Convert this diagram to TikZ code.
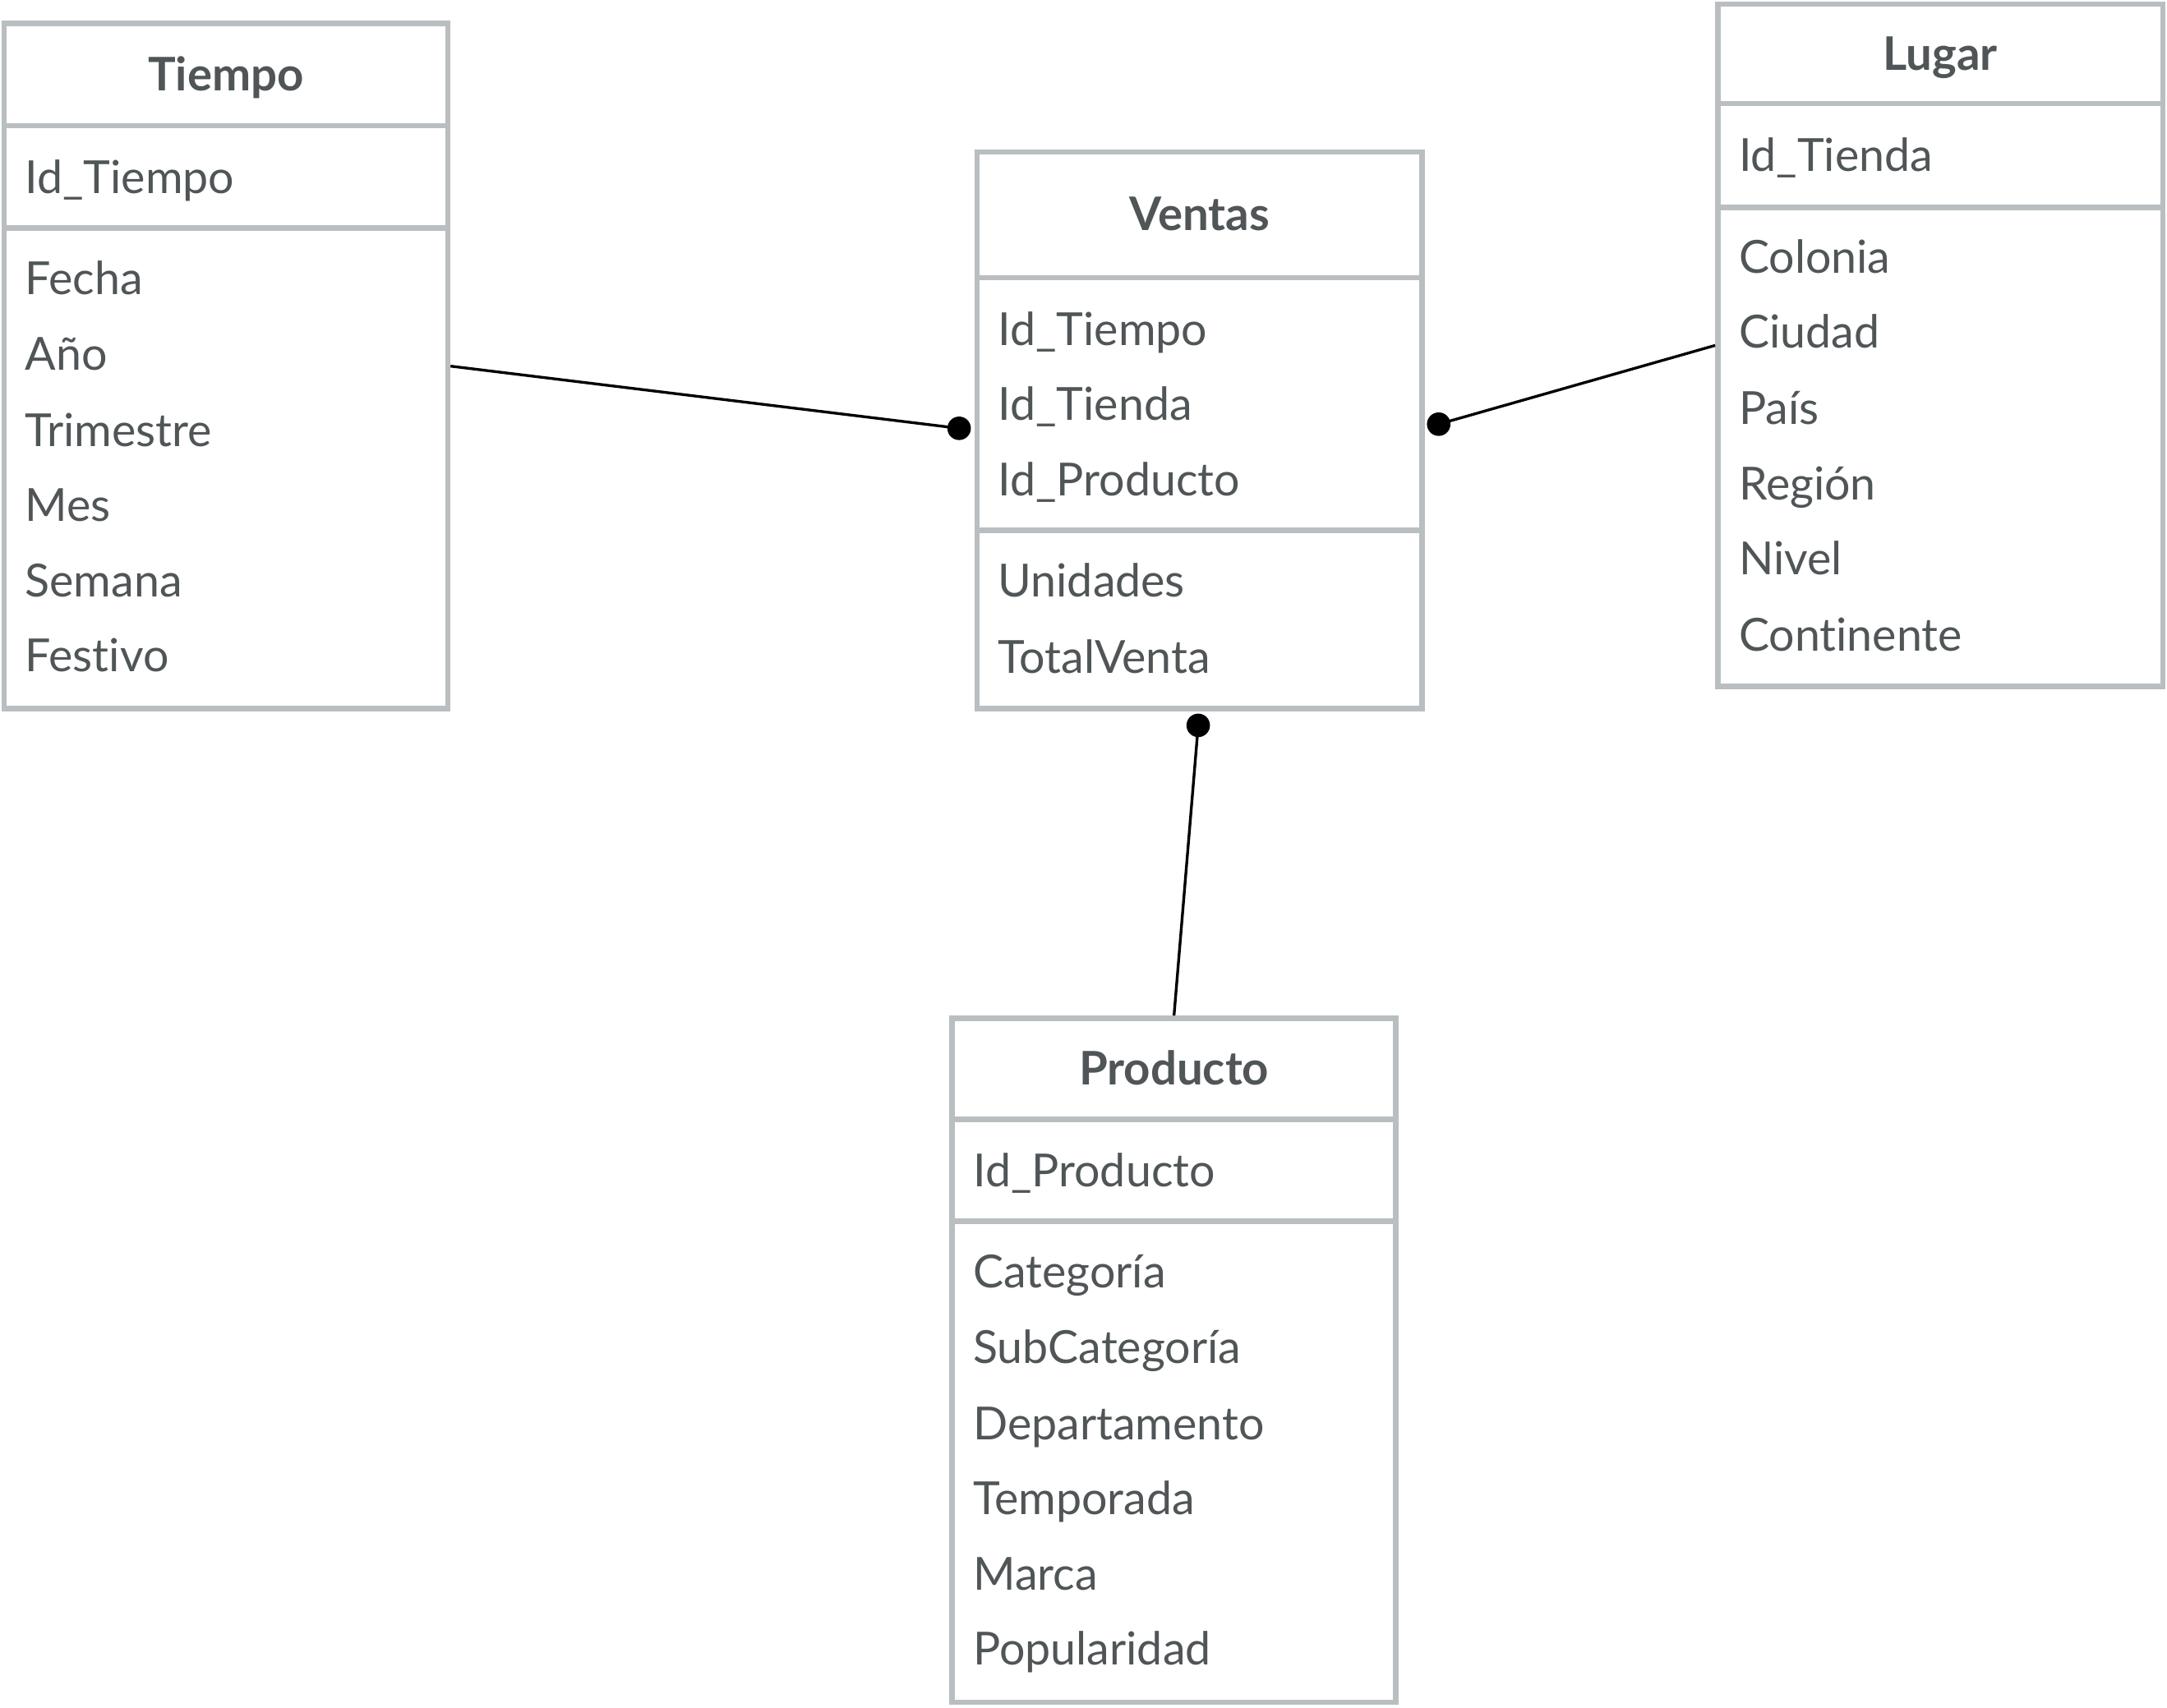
\documentclass[tikz,border=0pt]{standalone}
\usepackage{fontspec}
\setmainfont{Lato}[RawFeature={-liga;-dlig}]
\definecolor{boxgray}{HTML}{B9BEC0}
\definecolor{txt}{HTML}{505557}
\begin{document}
\begin{tikzpicture}[x=1pt,y=-1pt,
  tbl/.style={draw=boxgray, line width=4pt, rectangle, inner sep=0pt, fill=white},
  sep/.style={draw=boxgray, line width=4pt},
  ttl/.style={font=\fontsize{33.5}{40}\selectfont\bfseries, text=txt, anchor=base, inner sep=0pt},
  attr/.style={font=\fontsize{33}{40}\selectfont, text=txt, anchor=base west, inner sep=0pt},
  conn/.style={line width=2pt, black},
  dot/.style={circle, fill=black, inner sep=0pt, minimum size=17pt}]
\useasboundingbox (0,0) rectangle (1568,1236);
% boxes
\node[tbl, minimum width=321pt, minimum height=496pt] (tiempo) at (163.5,265) {};
\node[tbl, minimum width=322pt, minimum height=403pt] (ventas) at (868,311.5) {};
\node[tbl, minimum width=322pt, minimum height=494pt] (lugar) at (1404,250) {};
\node[tbl, minimum width=321pt, minimum height=495pt] (producto) at (849.5,984.5) {};
% dividers
\draw[sep] (3,91) -- (324,91);
\draw[sep] (3,165) -- (324,165);
\draw[sep] (707,201) -- (1029,201);
\draw[sep] (707,384) -- (1029,384);
\draw[sep] (1243,75) -- (1565,75);
\draw[sep] (1243,150) -- (1565,150);
\draw[sep] (689,810) -- (1010,810);
\draw[sep] (689,884) -- (1010,884);
% titles
\node[ttl] (tiempoT) at (163.5,66) {Tiempo};
\node[ttl] (ventasT) at (868,167) {Ventas};
\node[ttl] (lugarT) at (1404,51) {Lugar};
\node[ttl] (productoT) at (849.5,785) {Producto};
% Tiempo attributes
\node[attr] (t1) at (18,140) {Id\_Tiempo};
\node[attr] (t2) at (18,213) {Fecha};
\node[attr] (t3) at (18,268) {Año};
\node[attr] (t4) at (18,323) {Trimestre};
\node[attr] (t5) at (18,377) {Mes};
\node[attr] (t6) at (18,432) {Semana};
\node[attr] (t7) at (18,486) {Festivo};
% Ventas attributes
\node[attr] (v1) at (722,250) {Id\_Tiempo};
\node[attr] (v2) at (722,304) {Id\_Tienda};
\node[attr] (v3) at (722,359) {Id\_Producto};
\node[attr] (v4) at (722,432) {Unidades};
\node[attr] (v5) at (722,487) {TotalVenta};
% Lugar attributes
\node[attr] (l1) at (1258,124) {Id\_Tienda};
\node[attr] (l2) at (1258,198) {Colonia};
\node[attr] (l3) at (1258,252) {Ciudad};
\node[attr] (l4) at (1258,307) {País};
\node[attr] (l5) at (1258,362) {Región};
\node[attr] (l6) at (1258,416) {Nivel};
\node[attr] (l7) at (1258,471) {Continente};
% Producto attributes
\node[attr] (p1) at (704,859) {Id\_Producto};
\node[attr] (p2) at (704,932) {Categoría};
\node[attr] (p3) at (704,987) {SubCategoría};
\node[attr] (p4) at (704,1042) {Departamento};
\node[attr] (p5) at (704,1096) {Temporada};
\node[attr] (p6) at (704,1151) {Marca};
\node[attr] (p7) at (704,1205) {Popularidad};
% connectors
\node[dot] (dT) at (694,310) {};
\node[dot] (dL) at (1041,307) {};
\node[dot] (dP) at (867,525) {};
\draw[conn] (tiempo.east) -- (dT.center);
\draw[conn] (lugar.west) -- (dL.center);
\draw[conn] (producto.north) -- (dP.center);
\end{tikzpicture}
\end{document}
